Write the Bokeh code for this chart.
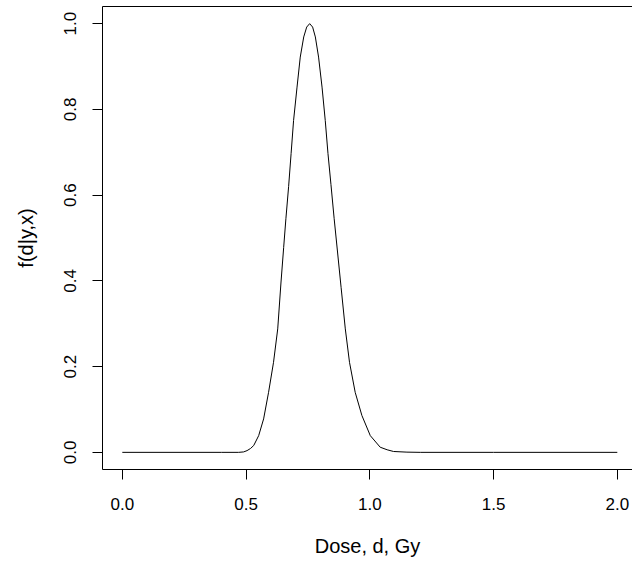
from bokeh.plotting import figure
from bokeh.models import Range1d, FixedTicker, PrintfTickFormatter, LinearAxis
from bokeh.embed import file_html
from bokeh.resources import INLINE

# Curve (dose in Gy, normalised density)
dose = [0.0, 0.40, 0.470, 0.490, 0.504, 0.518, 0.531, 0.551, 0.571, 0.591, 0.611,
        0.628, 0.641, 0.652, 0.661, 0.672, 0.682, 0.692, 0.706, 0.719, 0.733,
        0.745, 0.757, 0.769, 0.780, 0.793, 0.807, 0.820, 0.831, 0.843, 0.856,
        0.870, 0.884, 0.901, 0.918, 0.941, 0.968, 1.002, 1.042, 1.070, 1.096,
        1.150, 1.204, 1.50, 2.0]
density = [0.0, 0.0, 0.0, 0.001, 0.004, 0.009, 0.016, 0.039, 0.078, 0.140, 0.210,
           0.288, 0.395, 0.478, 0.545, 0.620, 0.697, 0.774, 0.852, 0.922, 0.969,
           0.992, 1.0, 0.992, 0.969, 0.922, 0.852, 0.774, 0.697, 0.625, 0.545,
           0.465, 0.385, 0.288, 0.210, 0.140, 0.086, 0.039, 0.012, 0.006, 0.002,
           0.0005, 0.0, 0.0, 0.0]

x_ticks = [0.0, 0.5, 1.0, 1.5, 2.0]
y_ticks = [0.0, 0.2, 0.4, 0.6, 0.8, 1.0]

FONT = "Liberation Sans"
TICK_FS = "17px"
TITLE_FS = "20px"

p = figure(width=632, height=562, output_backend="svg", toolbar_location=None,
           x_range=Range1d(-0.08, 2.0614), y_range=Range1d(-0.04, 1.04),
           min_border_left=102, min_border_right=0, min_border_top=6,
           min_border_bottom=93, x_axis_label="Dose, d, Gy", y_axis_label="f(d|y,x)")
p.background_fill_color = "white"
p.border_fill_color = "white"
p.outline_line_color = None
p.xgrid.visible = False
p.ygrid.visible = False

p.line(dose, density, line_color="black", line_width=1)

for ax in (p.xaxis[0], p.yaxis[0]):
    ax.axis_line_color = "black"
    ax.axis_line_width = 1
    ax.major_tick_line_color = "black"
    ax.major_tick_in = 0
    ax.major_tick_out = 10
    ax.minor_tick_line_color = None
    ax.major_label_text_font = FONT
    ax.major_label_text_font_size = TICK_FS
    ax.major_label_text_color = "black"
    ax.axis_label_text_font = FONT
    ax.axis_label_text_font_size = TITLE_FS
    ax.axis_label_text_font_style = "normal"
    ax.axis_label_text_color = "black"
    ax.formatter = PrintfTickFormatter(format="%.1f")

p.xaxis[0].ticker = FixedTicker(ticks=x_ticks)
p.yaxis[0].ticker = FixedTicker(ticks=y_ticks)
p.xaxis[0].major_label_standoff = 18
p.xaxis[0].axis_label_standoff = 22
p.yaxis[0].major_label_orientation = "vertical"
p.yaxis[0].major_label_standoff = 16
p.yaxis[0].axis_label_standoff = 25

top = LinearAxis(ticker=FixedTicker(ticks=[]), axis_line_color="black",
                 major_tick_line_color=None, minor_tick_line_color=None,
                 major_label_text_font_size="0px")
p.add_layout(top, "above")

open("out.html", "w").write(file_html(p, INLINE))
